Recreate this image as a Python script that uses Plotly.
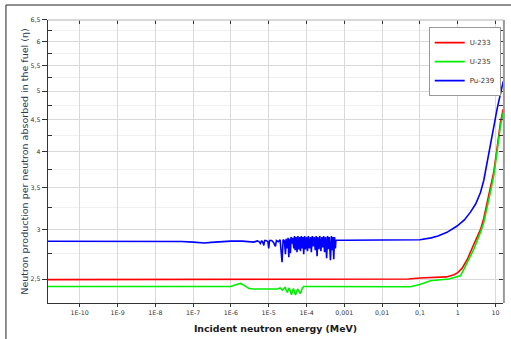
import plotly.graph_objects as go

# ---------------- data (energies in MeV) ----------------
u233_E = [1e-11, 1e-6, 1e-3, 0.01, 0.05, 0.1, 0.3, 0.5, 0.8, 1.0, 1.3, 1.8, 2.65,
          4.0, 4.9, 7.0, 9.0, 11.0, 13.5, 16.0]
u233_nu = [2.495, 2.495, 2.495, 2.497, 2.50, 2.51, 2.515, 2.52, 2.54, 2.56, 2.60, 2.69, 2.84,
           3.0, 3.13, 3.45, 3.71, 4.05, 4.45, 4.68]

u235_E = [1e-11, 1e-8, 1e-7, 1e-6, 1.4e-6, 1.8e-6, 2.3e-6, 3e-6, 4e-6, 5e-6, 6e-6, 8e-6,
          1e-5, 1.3e-5, 1.7e-5, 2.0e-5, 2.3e-5, 2.7e-5, 3.1e-5, 3.5e-5, 4.0e-5, 4.5e-5,
          5.1e-5, 5.8e-5, 6.9e-5, 7.8e-5, 8.5e-5, 1e-4, 1e-3, 0.01, 0.03, 0.056, 0.1, 0.19,
          0.58, 1.18, 1.5, 2.17, 2.65, 4.0, 4.9, 7.0, 9.0, 11.0, 13.5, 16.0]
u235_nu = [2.432, 2.432, 2.432, 2.432, 2.45, 2.46, 2.44, 2.415, 2.41, 2.41, 2.405, 2.405,
           2.41, 2.405, 2.41, 2.42, 2.40, 2.425, 2.38, 2.42, 2.36, 2.415,
           2.357, 2.41, 2.37, 2.42, 2.432, 2.432, 2.432, 2.428, 2.428, 2.43, 2.45, 2.485,
           2.50, 2.53, 2.60, 2.72, 2.79, 2.97, 3.08, 3.40, 3.66, 4.0, 4.4, 4.62]

pu239_E = [1e-11, 1e-9, 1e-8, 5e-8, 1e-7, 2e-7, 3e-7, 6e-7, 1e-6, 2e-6, 3e-6, 4e-6,
           5.0e-6, 5.5e-6, 6.0e-6, 6.5e-6, 7.0e-6, 7.4e-6, 7.8e-6, 8.5e-6, 9.5e-6, 1.0e-5,
           1.05e-5, 1.2e-5, 1.35e-5, 1.5e-5, 1.6e-5, 1.8e-5, 2.0e-5, 2.25e-5, 2.4e-5, 2.6e-5,
           2.77e-5, 2.9e-5, 3.1e-5, 3.25e-5, 3.4e-5, 3.55e-5, 3.75e-5, 3.9e-5, 4.1e-5, 4.3e-5,
           4.6e-5, 4.8e-5, 5.0e-5, 5.3e-5, 5.6e-5, 5.9e-5, 6.2e-5, 6.6e-5, 6.9e-5, 7.3e-5,
           7.7e-5, 8.1e-5, 8.4e-5, 8.9e-5, 9.4e-5, 1.0e-4, 1.06e-4, 1.12e-4, 1.19e-4, 1.27e-4,
           1.34e-4, 1.42e-4, 1.5e-4, 1.6e-4, 1.7e-4, 1.8e-4, 1.9e-4, 2.0e-4, 2.12e-4, 2.25e-4,
           2.4e-4, 2.55e-4, 2.7e-4, 2.85e-4, 3.0e-4, 3.2e-4, 3.4e-4, 3.6e-4, 3.8e-4, 4.0e-4,
           4.3e-4, 4.55e-4, 4.8e-4, 5.0e-4, 5.25e-4, 5.5e-4, 5.8e-4, 6.0e-4, 1e-3, 0.01, 0.05,
           0.1, 0.2, 0.3, 0.52, 0.96, 1.5, 2.17, 3.0, 4.0, 4.9, 6.0, 7.3, 9.0, 11.0, 13.5,
           15.5, 16.0]
pu239_nu = [2.875, 2.875, 2.873, 2.872, 2.865, 2.855, 2.862, 2.872, 2.876, 2.876, 2.872, 2.865,
            2.878, 2.87, 2.85, 2.88, 2.86, 2.83, 2.882, 2.882, 2.87, 2.80,
            2.882, 2.882, 2.86, 2.82, 2.882, 2.87, 2.89, 2.66, 2.89, 2.88,
            2.74, 2.90, 2.80, 2.91, 2.71, 2.90, 2.75, 2.92, 2.85, 2.91,
            2.80, 2.93, 2.78, 2.92, 2.76, 2.93, 2.79, 2.92, 2.77, 2.93,
            2.80, 2.92, 2.74, 2.93, 2.79, 2.92, 2.77, 2.93, 2.80, 2.92,
            2.76, 2.93, 2.82, 2.92, 2.78, 2.93, 2.72, 2.92, 2.79, 2.93,
            2.77, 2.92, 2.81, 2.93, 2.76, 2.92, 2.70, 2.93, 2.79, 2.92,
            2.68, 2.93, 2.78, 2.92, 2.69, 2.92, 2.80, 2.885, 2.885, 2.885, 2.886,
            2.89, 2.91, 2.93, 2.97, 3.04, 3.11, 3.20, 3.30, 3.44, 3.60, 3.85, 4.14, 4.42,
            4.68, 4.95, 5.13, 5.18]

x_tickvals = [1e-10, 1e-9, 1e-8, 1e-7, 1e-6, 1e-5, 1e-4, 1e-3, 1e-2, 1e-1, 1, 10]
x_ticktext = ["1E-10", "1E-9", "1E-8", "1E-7", "1E-6", "1E-5", "1E-4", "0,001", "0,01",
              "0,1", "1", "10"]
y_tickvals = [2.5, 3, 3.5, 4, 4.5, 5, 5.5, 6, 6.5]
y_ticktext = ["2,5", "3", "3,5", "4", "4,5", "5", "5,5", "6", "6,5"]
y_minorvals = [2.75, 3.25, 3.75, 4.25, 4.75, 5.25, 5.75, 6.25]

series = [
    ("U-233", u233_E, u233_nu, "#ff0000"),
    ("U-235", u235_E, u235_nu, "#00ee00"),
    ("Pu-239", pu239_E, pu239_nu, "#0000ff"),
]

FONT = "DejaVu Sans"
XR = [-10.84, 1.198]
YR = [0.3596, 0.8129]

fig = go.Figure()
for name, xs, ys, col in series:
    fig.add_trace(go.Scatter(x=xs, y=ys, mode="lines", name=name,
                             line=dict(color=col, width=1.6), hoverinfo="skip"))

# invisible trace to carry mirrored top/right tick axes
fig.add_trace(go.Scatter(x=u233_E, y=u233_nu, xaxis="x2", yaxis="y2", mode="lines",
                         opacity=0, showlegend=False, hoverinfo="skip"))

fig.update_layout(
    width=511, height=339,
    margin=dict(l=48, r=8, t=20, b=36, autoexpand=False),
    paper_bgcolor="white", plot_bgcolor="white",
    separators=", ",
    font=dict(family=FONT, size=6, color="#333333"),
    showlegend=True,
    legend=dict(x=0.995, y=0.975, xanchor="right", yanchor="top",
                bgcolor="white", bordercolor="#999999", borderwidth=1,
                font=dict(family=FONT, size=7, color="#333333"),
                tracegroupgap=0, itemwidth=30),
    xaxis=dict(type="log", range=XR, tickvals=x_tickvals, ticktext=x_ticktext,
               automargin=False,
               ticks="outside", ticklen=3, tickcolor="#333333",
               showline=True, linecolor="#333333", linewidth=1.2,
               showgrid=True, gridcolor="#d9d9d9", gridwidth=1, zeroline=False,
               tickfont=dict(family=FONT, size=6.3, color="#333333"),
               title=dict(text="<b>Incident neutron energy (MeV)</b>", standoff=10,
                          font=dict(family=FONT, size=9.4, color="#1a1a1a"))),
    yaxis=dict(type="log", range=YR, tickvals=y_tickvals, ticktext=y_ticktext,
               automargin=False,
               ticks="outside", ticklen=5, tickcolor="#333333",
               showline=True, linecolor="#333333", linewidth=1.2,
               showgrid=True, gridcolor="#d9d9d9", gridwidth=1, zeroline=False,
               tickfont=dict(family=FONT, size=6.3, color="#333333"),
               minor=dict(tickvals=y_minorvals, ticks="inside", ticklen=4,
                          tickcolor="#333333", showgrid=True, gridcolor="#f0f0f0"),
               title=dict(text="Neutron production per neutron absorbed in the fuel (η)",
                          standoff=0,
                          font=dict(family=FONT, size=9.5, color="#2b3a55"))),
    xaxis2=dict(type="log", range=XR, overlaying="x", side="top", anchor="y2",
                automargin=False,
                tickvals=x_tickvals, ticks="inside", ticklen=4, tickcolor="#333333",
                showticklabels=False, showgrid=False, showline=False, zeroline=False),
    yaxis2=dict(type="log", range=YR, overlaying="y", side="right", anchor="x2",
                automargin=False,
                tickvals=y_tickvals + y_minorvals, ticks="inside", ticklen=4,
                tickcolor="#333333", showticklabels=False, showgrid=False,
                showline=False, zeroline=False),
    shapes=[
        # plot frame top (light) and right (grey)
        dict(type="line", xref="paper", yref="paper", x0=0, x1=1, y0=1, y1=1,
             line=dict(color="#cccccc", width=1.5)),
        dict(type="line", xref="paper", yref="paper", x0=1.002, x1=1.002, y0=0, y1=1,
             line=dict(color="#999999", width=2)),
        # outer image frame
        dict(type="line", xref="paper", yref="paper", x0=-0.0924, x1=-0.0924,
             y0=-0.13, y1=1.0529, line=dict(color="#222222", width=1)),
        dict(type="line", xref="paper", yref="paper", x0=-0.0924, x1=1.03,
             y0=1.0529, y1=1.0529, line=dict(color="#222222", width=1)),
    ],
)

fig.write_html("out.html", config={"displayModeBar": False},
               post_script="document.body.style.margin='0px';")
